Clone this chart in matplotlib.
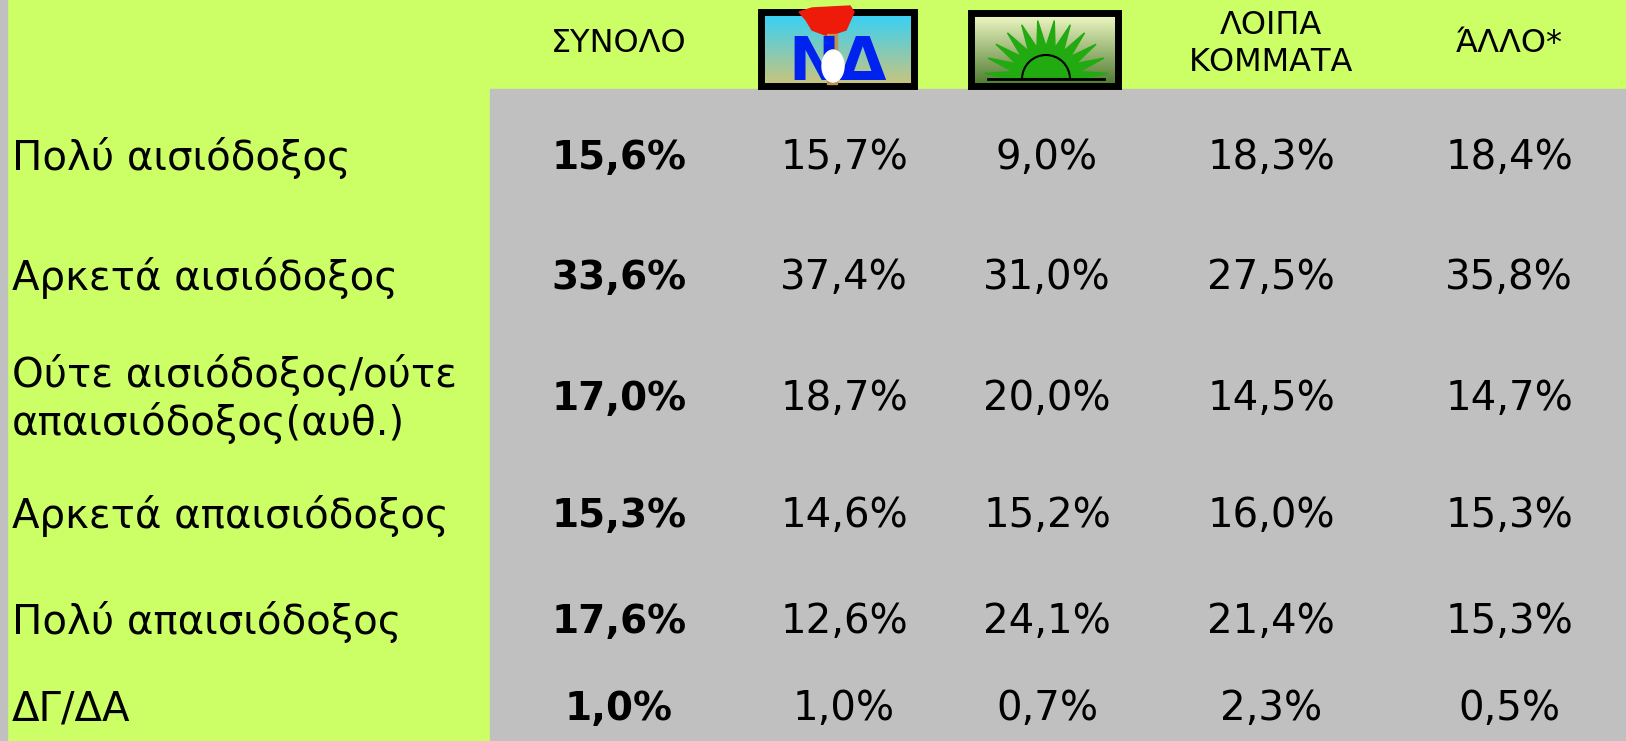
import numpy as np
import matplotlib.pyplot as plt
from matplotlib.patches import Rectangle, Polygon, Wedge, Ellipse

# data
headers = ["ΣΥΝΟΛΟ", "", "", "ΛΟΙΠΑ\nΚΟΜΜΑΤΑ", "ΆΛΛΟ*"]
row_labels = ["Πολύ αισιόδοξος", "Αρκετά αισιόδοξος",
              "Ούτε αισιόδοξος/ούτε\nαπαισιόδοξος(αυθ.)",
              "Αρκετά απαισιόδοξος", "Πολύ απαισιόδοξος", "ΔΓ/ΔΑ"]
synolo = ["15,6%", "33,6%", "17,0%", "15,3%", "17,6%", "1,0%"]
nd = ["15,7%", "37,4%", "18,7%", "14,6%", "12,6%", "1,0%"]
pasok = ["9,0%", "31,0%", "20,0%", "15,2%", "24,1%", "0,7%"]
loipa = ["18,3%", "27,5%", "14,5%", "16,0%", "21,4%", "2,3%"]
allo = ["18,4%", "35,8%", "14,7%", "15,3%", "15,3%", "0,5%"]

W, H = 1626, 741
fig = plt.figure(figsize=(W / 100, H / 100), dpi=100)
ax = fig.add_axes([0, 0, 1, 1])
ax.set_xlim(0, W)
ax.set_ylim(H, 0)
ax.axis("off")

green = "#CCFF66"
gray = "#C0C0C0"
ax.add_patch(Rectangle((0, 0), W, H, color=green, zorder=0))
ax.add_patch(Rectangle((0, 0), 7, H, color=gray, zorder=1))
ax.add_patch(Rectangle((490, 89), W - 490, H - 89, color=gray, zorder=1))

font = "DejaVu Sans"
col_x = [619, 844, 1047, 1271, 1509]
row_y = [158, 278, 399, 516, 622, 709]

# header
for x, h in zip(col_x, headers):
    if h:
        ax.text(x, 44, h, ha="center", va="center", fontsize=23, family=font,
                linespacing=1.25, zorder=5)

# ND logo
grad = np.linspace(0, 1, 50)[:, None]
ax.imshow(np.dstack([0.2 + 0.6 * grad, 0.82 - 0.05 * grad, 0.98 - 0.5 * grad]) * np.ones((1, 10, 1)),
          extent=(761, 914, 86, 12), aspect="auto", zorder=2)
ax.add_patch(Rectangle((761, 12), 153, 74, fill=False, ec="black", lw=5, zorder=3))
ax.add_patch(Polygon([[799, 12], [812, 8], [850, 6], [854, 12], [846, 30], [828, 36], [812, 30], [806, 20]],
                     color="#EE1A0A", zorder=4))
ax.add_patch(Rectangle((827, 34), 10, 50, color="#C09050", zorder=4))
ax.text(838, 64, "ΝΔ", ha="center", va="center", fontsize=44, fontweight="bold",
        color="#0022EE", family=font, zorder=4)
ax.add_patch(Ellipse((833, 66), 22, 32, color="white", zorder=5))

# PASOK logo
ax.imshow(np.dstack([0.95 - 0.65 * grad, 0.98 - 0.5 * grad, 0.78 - 0.6 * grad]) * np.ones((1, 10, 1)),
          extent=(971, 1118, 86, 13), aspect="auto", zorder=2)
ax.add_patch(Rectangle((971, 13), 147, 73, fill=False, ec="black", lw=5, zorder=3))
cx, cy = 1046, 79
ang = np.linspace(np.pi * 0.97, np.pi * 0.03, 23)
pts = []
for i, a in enumerate(ang):
    r = 62 if i % 2 == 0 else 34
    pts.append([cx + r * np.cos(a), cy - r * 0.95 * np.sin(a)])
pts = [[cx - 34, cy]] + pts + [[cx + 34, cy]]
ax.add_patch(Polygon(pts, color="#22AA11", zorder=4))
ax.add_patch(Wedge((cx, cy), 24, 180, 360, fill=False, ec="black", lw=1.5, zorder=5))
ax.plot([988, 1104], [cy, cy], color="black", lw=2, zorder=5)

# rows
for i, y in enumerate(row_y):
    ax.text(12, y, row_labels[i], ha="left", va="center", fontsize=29, family=font,
            linespacing=1.2, zorder=5)
    ax.text(col_x[0], y, synolo[i], ha="center", va="center", fontsize=28,
            fontweight="bold", family=font, zorder=5)
    for x, col in zip(col_x[1:], [nd, pasok, loipa, allo]):
        ax.text(x, y, col[i], ha="center", va="center", fontsize=29, family=font, zorder=5)

fig.savefig("out.png", dpi=100)
